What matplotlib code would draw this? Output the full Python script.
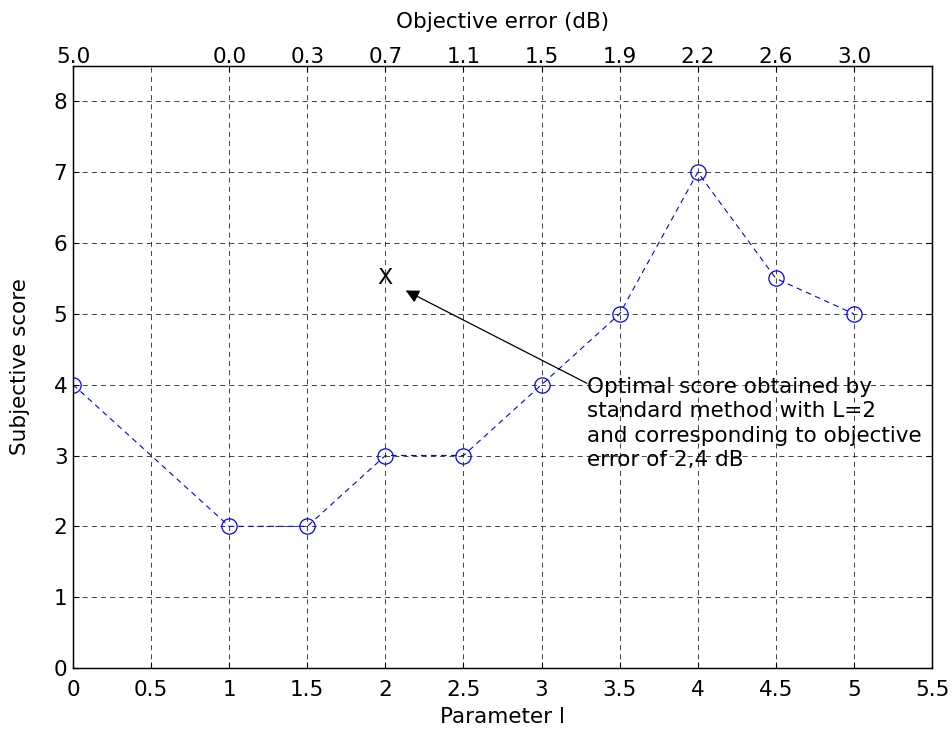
import matplotlib
matplotlib.use("Agg")
import matplotlib.pyplot as plt

plt.rcParams['font.family'] = ['DejaVu Sans']

param_l = [0, 1, 1.5, 2, 2.5, 3, 3.5, 4, 4.5, 5]
scores = [4, 2, 2, 3, 3, 4, 5, 7, 5.5, 5]
top_tick_pos = [0, 1, 1.5, 2, 2.5, 3, 3.5, 4, 4.5, 5]
top_tick_labels = ["5.0", "0.0", "0.3", "0.7", "1.1", "1.5", "1.9", "2.2", "2.6", "3.0"]
bottom_ticks = [0, 0.5, 1, 1.5, 2, 2.5, 3, 3.5, 4, 4.5, 5, 5.5]
bottom_labels = ["0", "0.5", "1", "1.5", "2", "2.5", "3", "3.5", "4", "4.5", "5", "5.5"]
y_ticks = [0, 1, 2, 3, 4, 5, 6, 7, 8]
optimal_point = (2, 5.5)
annotation_text = ("Optimal score obtained by\nstandard method with L=2\n"
                   "and corresponding to objective\nerror of 2,4 dB")

FS = 15.5

fig = plt.figure(figsize=(9.53, 7.29), dpi=100)
ax = fig.add_axes([0.0766, 0.0837, 0.978 - 0.0766, 0.9095 - 0.0837])

ax.plot(param_l, scores, linestyle=(0, (5, 4)), color='#0000ff', linewidth=0.8,
        marker='o', markersize=11, markerfacecolor='none', markeredgecolor='#0000ff',
        markeredgewidth=0.9)

ax.set_xlim(0, 5.5)
ax.set_ylim(0, 8.5)
ax.set_xticks(bottom_ticks)
ax.set_xticklabels(bottom_labels)
ax.set_yticks(y_ticks)
ax.tick_params(direction='in', labelsize=FS, length=4, width=0.8, right=True)
ax.tick_params(axis='x', pad=9)
ax.tick_params(axis='y', pad=4)
ax.grid(True, color='#222222', linestyle=(0, (6, 5)), linewidth=0.6)
for s in ax.spines.values():
    s.set_linewidth(1.0)

ax.set_xlabel("Parameter l", fontsize=FS, labelpad=5)
ax.set_ylabel("Subjective score", fontsize=FS, labelpad=17)

ax2 = ax.twiny()
ax2.set_xlim(ax.get_xlim())
ax2.set_xticks(top_tick_pos)
ax2.set_xticklabels(top_tick_labels)
ax2.tick_params(direction='in', labelsize=FS, length=4, width=0.8, pad=-0.8)
ax2.set_xlabel("Objective error (dB)", fontsize=FS, labelpad=14)

ax.text(optimal_point[0], optimal_point[1], "X", fontsize=16, ha='center', va='center')
ax.annotate("", xy=(2.13, 5.33), xytext=(3.29, 4.02),
            arrowprops=dict(arrowstyle='-|>', color='black', lw=0.9,
                            mutation_scale=20, shrinkA=0, shrinkB=0))
ax.text(3.29, 4.11, annotation_text, fontsize=FS, ha='left', va='top',
        linespacing=1.28)

fig.savefig("out.png", dpi=100)
